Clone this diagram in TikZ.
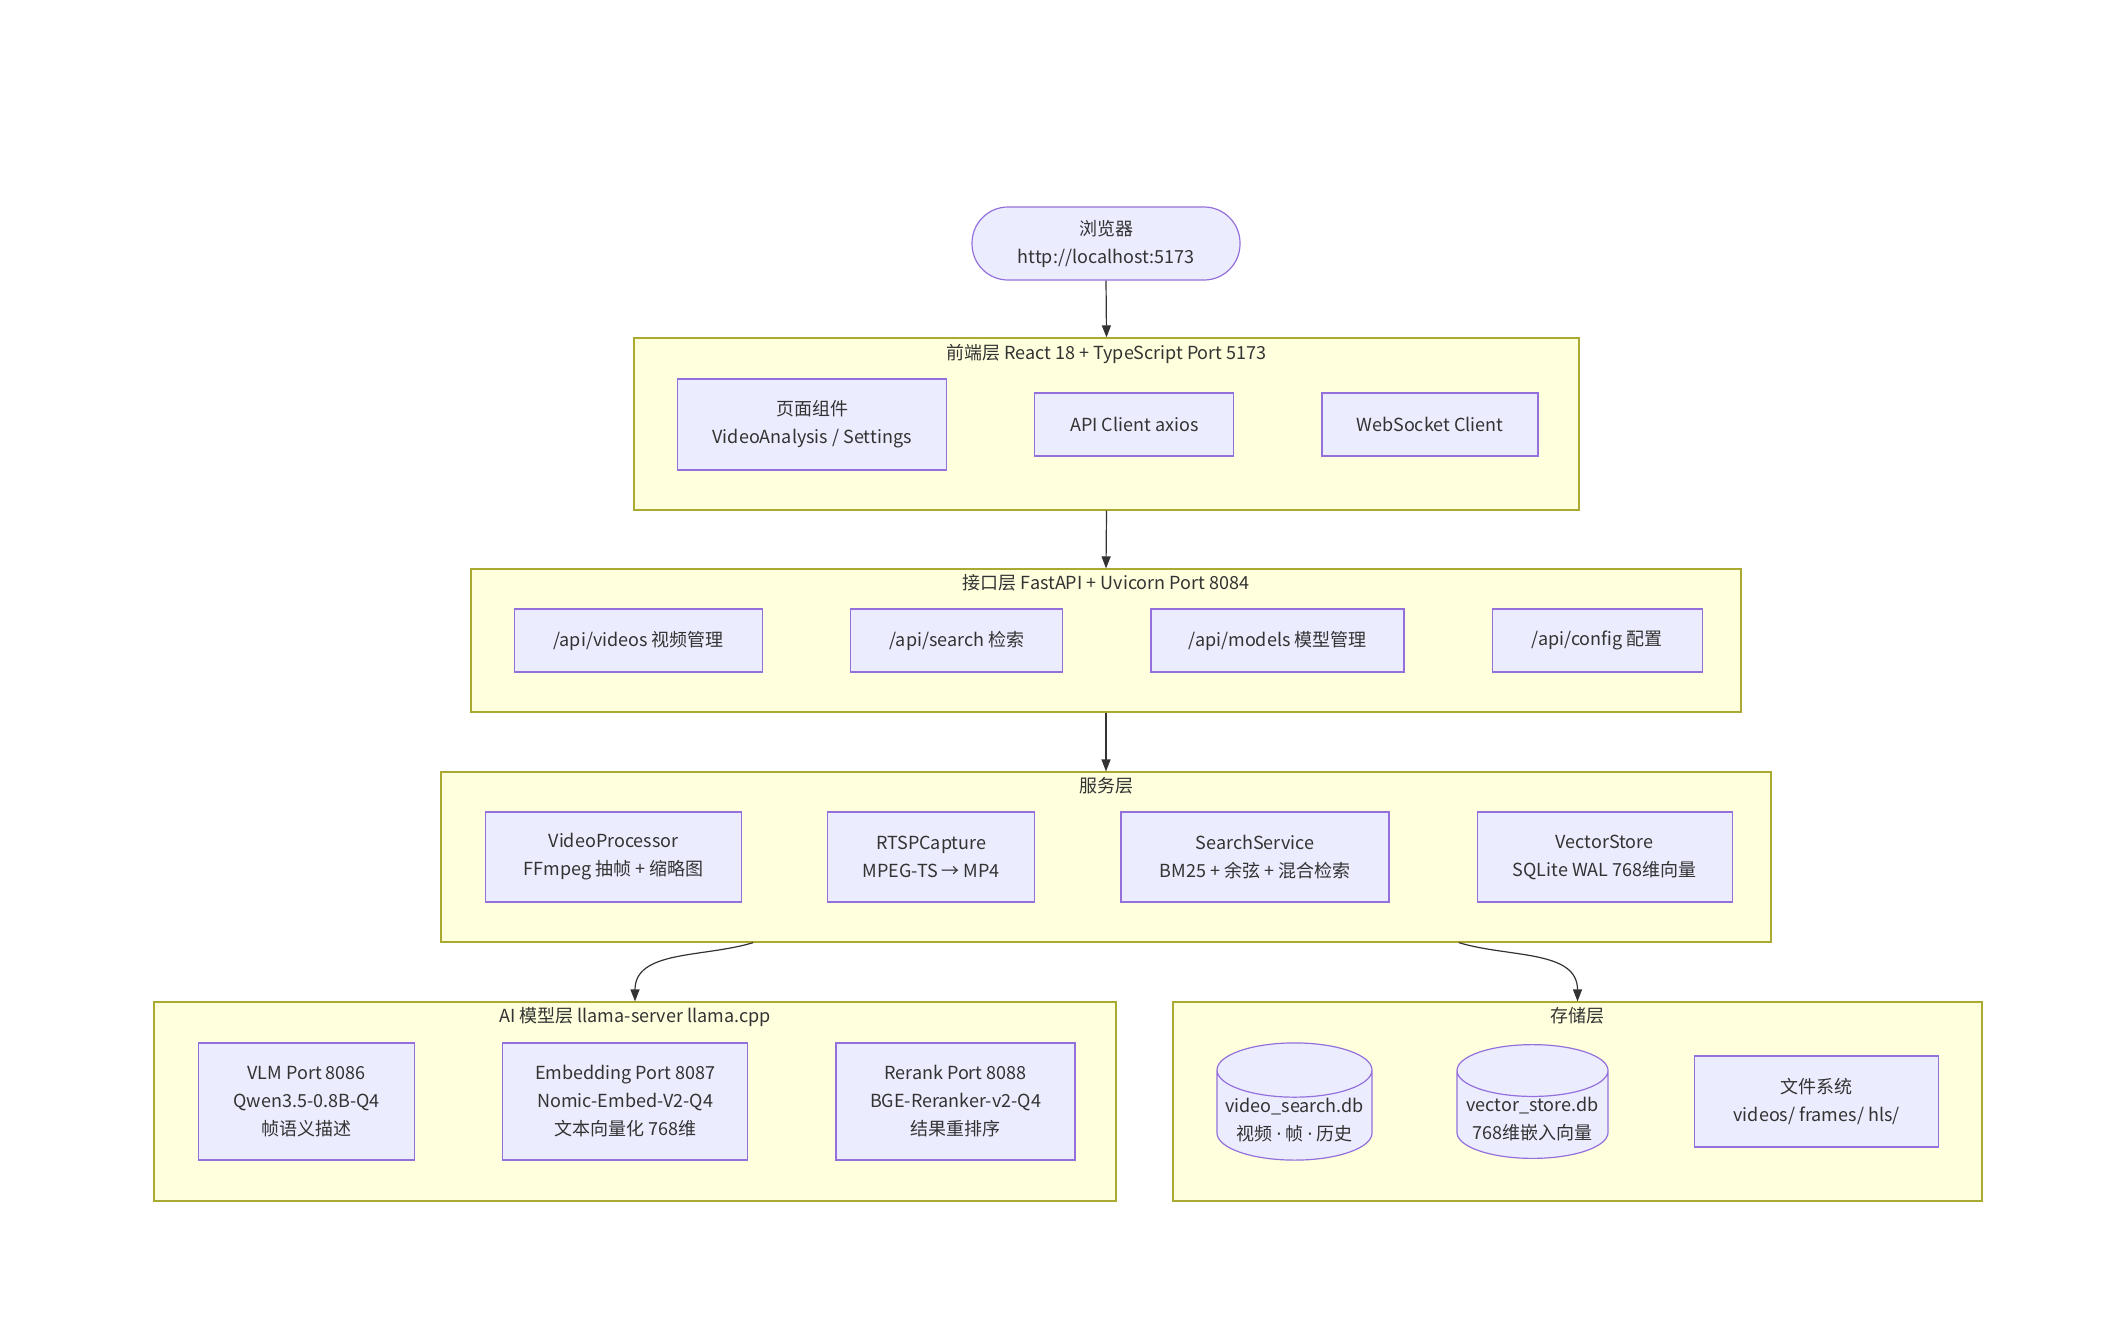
\documentclass[tikz,border=0pt]{standalone}
\usepackage{fontspec}
\setmainfont{Noto Sans CJK SC}
\newfontfamily\latinfont{Noto Sans}
\usepackage{tikz}
\usetikzlibrary{positioning}
\usetikzlibrary{shapes,arrows.meta,fit,shapes.geometric,calc}
\definecolor{boxfill}{HTML}{ECECFF}
\definecolor{boxline}{HTML}{9370DB}
\definecolor{layerfill}{HTML}{FFFFDE}
\definecolor{layerline}{HTML}{AAAA33}
\definecolor{txt}{HTML}{333333}
\tikzset{
    %Define standard arrow tip
    >={Triangle[length=6pt,width=4.5pt]},
    % Define arrow style
    pil/.style={
           ->,
           draw=txt,
           line width=0.6pt}
}
\newcommand{\gap}{43.5pt}
\newcommand{\boxheight}{31.5pt}
\newcommand{\mdot}{{\latinfont ·}}

\begin{document}
\begin{tikzpicture}[x=0.5pt, y=0.5pt, font=\fontsize{9}{14}\selectfont, text=txt]
\tikzstyle{layer}=[ draw=layerline,
                  fill=layerfill,
                  rectangle,
                  line width=0.6pt,
                  inner sep=0pt]
\tikzstyle{ltitle}=[ inner sep=0pt,
                  anchor=north]
\tikzstyle{nbox}=[ draw=boxline,
                  fill=boxfill,
                  rectangle,
                  line width=0.6pt,
                  inner sep=2pt,
                  align=center,
                  minimum height=\boxheight]
\tikzstyle{ndb}=[ draw=boxline,
                  fill=boxfill,
                  cylinder, shape border rotate=90, aspect=0.37,
                  line width=0.6pt,
                  inner xsep=2pt, inner ysep=0pt,
                  align=center,
                  minimum width=77.5pt, minimum height=53pt,
                  anchor=shape center]

\useasboundingbox (0,0) rectangle (2123,-1333);

% browser
\node[nbox, rounded corners=18pt, minimum width=134pt, minimum height=36.5pt] (browser) at (1106,-243.5) {浏览器\\http://localhost:5173};

% front end
\node[layer, minimum width=472.5pt, minimum height=86pt] (fe) at (1106.5,-424) {};
\node[ltitle] (fetitle) [below = 3pt of fe.north] {前端层 React 18 + TypeScript Port 5173};
\node[nbox, anchor=west, minimum width=134.5pt, minimum height=45.5pt] (pages) at (677,-424.5) {页面组件\\VideoAnalysis / Settings};
\node[nbox, minimum width=99.5pt] (apiclient) [right = \gap of pages]     {API Client axios};
\node[nbox, minimum width=108pt]  (wsclient)  [right = \gap of apiclient] {WebSocket Client};

% api
\node[layer, minimum width=635pt, minimum height=71.5pt] (api) at (1106,-640.5) {};
\node[ltitle] (apititle) [below = 3pt of api.north] {接口层 FastAPI + Uvicorn Port 8084};
\node[nbox, anchor=west, minimum width=124pt] (videos) at (514,-640.5) {/api/videos 视频管理};
\node[nbox, minimum width=106pt]   (search) [right = \gap of videos] {/api/search 检索};
\node[nbox, minimum width=126.5pt] (models) [right = \gap of search] {/api/models 模型管理};
\node[nbox, minimum width=105pt]   (config) [right = \gap of models] {/api/config 配置};

% services
\node[layer, minimum width=665pt, minimum height=85pt] (svc) at (1106,-857) {};
\node[ltitle] (svctitle) [below = 3pt of svc.north] {服务层};
\node[nbox, anchor=west, minimum width=128pt, minimum height=45pt] (vproc) at (485,-857) {VideoProcessor\\FFmpeg 抽帧 + 缩略图};
\node[nbox, minimum width=103.5pt, minimum height=45pt] (rtsp)    [right = 42.5pt of vproc] {RTSPCapture\\MPEG-TS → MP4};
\node[nbox, minimum width=134pt, minimum height=45pt]   (ssearch) [right = 42.5pt of rtsp]  {SearchService\\BM25 + 余弦 + 混合检索};
\node[nbox, minimum width=127.5pt, minimum height=45pt] (vstore)  [right = \gap of ssearch] {VectorStore\\SQLite WAL 768维向量};

% models
\node[layer, minimum width=481pt, minimum height=99.5pt] (ai) at (635,-1101.5) {};
\node[ltitle] (aititle) [below = 3pt of ai.north] {AI 模型层 llama-server llama.cpp};
\node[nbox, anchor=west, minimum width=108pt, minimum height=58.5pt] (vlm) at (198,-1101.5) {VLM Port 8086\\Qwen3.5-0.8B-Q4\\帧语义描述};
\node[nbox, minimum width=122.5pt, minimum height=58.5pt] (embed)  [right = \gap of vlm]   {Embedding Port 8087\\Nomic-Embed-V2-Q4\\文本向量化 768维};
\node[nbox, minimum width=119.5pt, minimum height=58.5pt] (rerank) [right = \gap of embed] {Rerank Port 8088\\BGE-Reranker-v2-Q4\\结果重排序};

% storage
\node[layer, minimum width=404.5pt, minimum height=99.5pt] (store) at (1577.5,-1101.5) {};
\node[ltitle] (storetitle) [below = 3pt of store.north] {存储层};
\node[ndb] (vsdb) at (1294.5,-1101.5) {video\_search.db\\视频 \mdot{} 帧 \mdot{} 历史};
\node[ndb, minimum width=75.5pt] (vecdb) at (1532.5,-1101.5) {vector\_store.db\\768维嵌入向量};
\node[nbox, anchor=west, minimum width=122pt, minimum height=45.5pt] (files) at (1694,-1101.5) {文件系统\\videos/ frames/ hls/};

% connectors
\coordinate (svcl) at ($(svc.south west)!0.235!(svc.south east)$);
\coordinate (svcr) at ($(svc.south west)!0.765!(svc.south east)$);
\draw[pil] (browser.south) -- (fe.north);
\draw[pil] (fe.south) -- (api.north);
\draw[pil] (api.south) -- (svc.north);
\draw[pil] (svcl) to[out=197,in=90] (ai.north);
\draw[pil] (svcr) to[out=-17,in=90] (store.north);

\end{tikzpicture}
\end{document}
